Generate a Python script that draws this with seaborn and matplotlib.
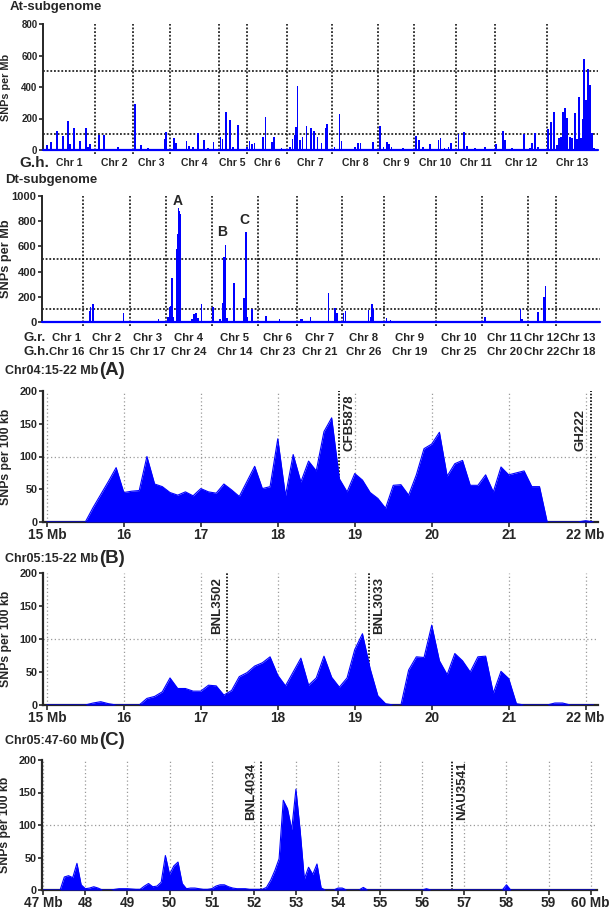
import numpy as np
import matplotlib
matplotlib.use("Agg")
import matplotlib.pyplot as plt
import matplotlib.transforms as mtransforms
import seaborn as sns

sns.set_style("ticks")
plt.rcParams['font.family'] = ['Liberation Sans', 'DejaVu Sans']
plt.rcParams['font.weight'] = 'bold'
plt.rcParams['axes.labelweight'] = 'bold'

BLUE = '#0000FF'
W, H = 609, 909

# ---- At-subgenome (SNPs per Mb, cumulative genome position) ----
at_chr_len = [157, 112, 113, 146, 83, 122, 136, 138, 108, 125, 116, 156, 154]
at_chr_names = ['Chr 1', 'Chr 2', 'Chr 3', 'Chr 4', 'Chr 5', 'Chr 6', 'Chr 7',
                'Chr 8', 'Chr 9', 'Chr 10', 'Chr 11', 'Chr 12', 'Chr 13']
at_pos = [13, 24, 43, 59, 74, 81, 92, 112, 129, 134, 141,
          167, 184, 225,
          276, 293, 316, 366, 370,
          392, 398, 431, 439, 451, 465, 483, 496, 512,
          533, 539, 549, 561, 571, 585,
          613, 620, 628, 635, 661, 668, 687, 693, 716,
          741, 749, 756, 759, 764, 771, 779, 791, 804, 813, 824, 836, 848, 852,
          875, 890, 896, 936, 946, 953, 990,
          1012, 1022, 1032, 1039, 1046, 1081,
          1119, 1128, 1140, 1162, 1187, 1193, 1205, 1217, 1224,
          1247, 1263, 1273, 1296, 1328,
          1361, 1382, 1386, 1408, 1445, 1461, 1468, 1478, 1486,
          1515, 1526, 1533, 1544, 1550, 1556, 1561, 1568, 1574, 1583, 1589,
          1597, 1602, 1608, 1614, 1620, 1624, 1629, 1635, 1642, 1648, 1654]
at_val = [32, 53, 123, 90, 184, 38, 140, 57, 140, 21, 38,
          95, 95, 21,
          290, 32, 10, 68, 112,
          78, 42, 57, 27, 21, 110, 66, 15, 51,
          85, 68, 239, 190, 21, 159,
          21, 57, 38, 42, 85, 212, 53, 80, 10,
          21, 68, 95, 148, 406, 63, 85, 152, 137, 120, 80, 47, 137, 163,
          17, 231, 57, 21, 42, 42, 49,
          152, 21, 49, 38, 17, 10,
          91, 63, 21, 38, 63, 78, 10, 21, 42,
          102, 114, 27, 10, 17,
          38, 123, 63, 10, 102, 10, 42, 108, 21,
          135, 180, 243, 32, 74, 80, 239, 269, 205, 85, 78,
          233, 70, 339, 74, 197, 580, 317, 514, 413, 106, 10]

# ---- Dt-subgenome ----
dt_chr_len = [55, 62, 47, 61, 62, 51, 60, 56, 68, 61, 61, 38, 58]
dt_gr_names = ['Chr 1', 'Chr 2', 'Chr 3', 'Chr 4', 'Chr 5', 'Chr 6', 'Chr 7',
               'Chr 8', 'Chr 9', 'Chr 10', 'Chr 11', 'Chr 12', 'Chr 13']
dt_gh_names = ['Chr 16', 'Chr 15', 'Chr 17', 'Chr 24', 'Chr 14', 'Chr 23', 'Chr 21',
               'Chr 26', 'Chr 19', 'Chr 25', 'Chr 20', 'Chr 22', 'Chr 18']
dt_pos = [62.8, 64.6, 67.3, 108.0, 154.4,
          166.8, 169.0, 170.8, 172.6, 174.3, 178.8, 180.0, 181.0, 182.0, 182.7,
          198.7, 201.8, 204.4, 207.1, 211.5,
          226.5, 236.3, 239.8, 241.6, 243.4, 245.1, 254.9, 268.1, 270.8, 272.6, 278.3,
          297.3, 315.0, 332.7,
          342.5, 344.7, 355.8, 380.1, 388.9, 391.2,
          400.0, 402.7, 433.2, 435.4, 437.6, 439.8,
          456.6, 461.9, 509.7,
          587.2, 609.3, 634.5, 636.7,
          658.0, 665.5, 667.7,
          733.2]
dt_val = [90, 116, 140, 69, 21,
          42, 121, 127, 346, 42, 583, 700, 905, 880, 860,
          21, 63, 74, 29, 143,
          121, 21, 148, 512, 610, 29, 311, 193, 715, 42, 100,
          50, 24, 10,
          21, 24, 42, 232, 113, 69,
          69, 87, 95, 42, 143, 100,
          34, 16, 10,
          37, 10, 100, 21,
          82, 200, 285,
          10]
dt_peak_names = ['A', 'B', 'C']
dt_peak_pos = [179.7, 239.4, 268.0]
dt_peak_val = [958, 712, 808]

# ---- Region A: Chr04 15-22 Mb (SNPs per 100 kb) ----
a_x = [round(15.0 + 0.1 * i, 1) for i in range(72)]
a_y = [0, 0, 0, 0, 0, 0, 22, 42, 62, 83,
       45, 47, 48, 100, 58, 54, 45, 41, 46, 40,
       51, 46, 44, 58, 49, 39, 62, 85, 51, 54,
       127, 40, 103, 61, 93, 78, 138, 159, 66, 46,
       74, 64, 45, 36, 21, 56, 57, 41, 72, 112,
       119, 137, 70, 89, 94, 56, 56, 72, 46, 84,
       72, 75, 78, 54, 54, 0, 0, 0, 0, 0,
       2, 0]
a_markers = ['CFB5878', 'GH222']
a_marker_pos = [18.8, 22.07]

# ---- Region B: Chr05 15-22 Mb ----
b_x = [round(15.0 + 0.1 * i, 1) for i in range(72)]
b_y = [0, 0, 0, 0, 0, 0, 3, 5, 2, 0,
       0, 0, 0, 10, 13, 20, 41, 25, 25, 21,
       21, 30, 29, 15, 22, 43, 49, 59, 64, 73,
       45, 29, 50, 71, 30, 41, 74, 42, 27, 41,
       84, 108, 55, 14, 2, 0, 0, 53, 73, 72,
       121, 67, 46, 78, 67, 50, 73, 74, 18, 51,
       40, 2, 0, 0, 0, 0, 3, 3, 0, 0,
       0, 0]
b_markers = ['BNL3502', 'BNL3033']
b_marker_pos = [17.34, 19.19]

# ---- Region C: Chr05 47-60 Mb ----
c_x = [47.0, 47.4, 47.5, 47.6, 47.7, 47.8, 47.9, 48.0, 48.1, 48.2, 48.3, 48.4, 48.6,
       48.7, 48.8, 49.0, 49.2, 49.3, 49.4, 49.5, 49.6, 49.7, 49.8, 49.9, 50.0, 50.1,
       50.2, 50.3, 50.4, 50.5, 50.6, 50.7, 50.8, 50.9, 51.0, 51.1, 51.2, 51.3, 51.4,
       51.5, 51.6, 51.8, 51.9, 52.0, 52.2, 52.3, 52.4, 52.5, 52.6, 52.7, 52.8, 52.9,
       53.0, 53.1, 53.2, 53.3, 53.4, 53.5, 53.6, 53.7, 53.9, 54.0, 54.1, 54.2, 54.5,
       54.6, 54.7, 56.0, 56.1, 56.2, 57.9, 58.0, 58.1, 60.1]
c_y = [0, 0, 20, 22, 19, 41, 8, 2, 3, 5, 3, 0, 0,
       1, 2, 2, 1, 1, 6, 10, 5, 6, 12, 53, 24, 37,
       43, 10, 2, 3, 3, 2, 1, 1, 2, 6, 8, 8, 5,
       3, 2, 2, 1, 1, 1, 4, 15, 30, 48, 138, 125, 93,
       155, 92, 17, 35, 24, 40, 3, 0, 0, 3, 3, 0, 0,
       4, 0, 0, 2, 0, 0, 8, 0, 0]
c_markers = ['BNL4034', 'NAU3541']
c_marker_pos = [52.17, 56.71]


def px_axes(fig, left, top, right, bottom):
    return fig.add_axes([left / W, 1 - bottom / H, (right - left) / W, (bottom - top) / H])


def fy(py):
    return 1 - py / H


def genome_panel(ax, lengths, pos, val, ymax, bar_w, tick_size, ylab_size):
    ends = np.cumsum(lengths)
    ax.bar(pos, val, width=bar_w, color=BLUE, linewidth=0, zorder=3)
    ax.plot([0, ends[-1]], [0, 0], color=BLUE, lw=1.6, zorder=4, clip_on=False)
    for e in ends[:-1]:
        ax.axvline(e, ymin=-0.035, ymax=1, color='black', ls=(0, (1.2, 1.2)),
                   lw=1.1, zorder=2, clip_on=False)
    for h in (100, 500):
        ax.axhline(h, color='black', ls=(0, (1.2, 1.2)), lw=1.1, zorder=2)
    ax.set_xlim(0, ends[-1])
    ax.set_ylim(0, ymax)
    ax.set_xticks([])
    ax.set_yticks(range(0, ymax + 1, 200))
    ax.tick_params(axis='y', labelsize=tick_size, length=3, width=1.2, pad=1)
    ax.set_ylabel('SNPs per Mb', fontsize=ylab_size)
    sns.despine(ax=ax)
    ax.spines['left'].set_linewidth(1.4)
    ax.spines['bottom'].set_visible(False)
    return ends - np.array(lengths) / 2


def region_panel(ax, x, y, lo, hi, ticks, markers, marker_pos, sides):
    for t in ticks:
        ax.axvline(t, color='#9a9a9a', ls=(0, (1, 2)), lw=0.9, zorder=1)
    ax.axhline(100, color='#9a9a9a', ls=(0, (1, 2)), lw=0.9, zorder=1)
    for name, mx, side in zip(markers, marker_pos, sides):
        ax.axvline(mx, color='black', ls=(0, (1, 1)), lw=1.2, zorder=2)
        dx = 3 if side == 'right' else -3
        ax.annotate(name, (mx, 108), xytext=(dx, 0), textcoords='offset points',
                    rotation=90, ha='left' if side == 'right' else 'right',
                    va='bottom', fontsize=9.5, fontweight='bold')
    ax.fill_between(x, y, 0, color=BLUE, lw=0, zorder=3)
    sns.lineplot(x=x, y=y, ax=ax, color=BLUE, lw=0.8, zorder=3, estimator=None)
    ax.set_xlim(lo, hi)
    ax.set_ylim(0, 200)
    ax.set_xticks(ticks)
    labels = [str(t) for t in ticks]
    labels[0] += ' Mb'
    labels[-1] += ' Mb'
    ax.set_xticklabels(labels)
    ax.set_yticks([0, 50, 100, 150, 200])
    ax.tick_params(axis='x', labelsize=9.8, length=3.5, width=1.2, pad=1)
    ax.tick_params(axis='y', labelsize=7.8, length=3, width=1.2, pad=1)
    ax.set_ylabel('SNPs per 100 kb', fontsize=8.8)
    ax.yaxis.set_label_coords(-0.055, 0.5)
    ax.set_xlabel('')
    sns.despine(ax=ax)
    ax.spines['left'].set_linewidth(1.6)
    ax.spines['bottom'].set_linewidth(1.6)


fig = plt.figure(figsize=(W / 100, H / 100), dpi=100)

# At-subgenome
ax_at = px_axes(fig, 43, 24, 598, 150)
mids = genome_panel(ax_at, at_chr_len, at_pos, at_val, 800, 5.5, 7, 7.8)
ax_at.yaxis.set_label_coords(-0.058, 0.5)
fig.text(10 / W, fy(10), 'At-subgenome', fontsize=9.5, fontweight='bold', va='baseline')
tr = mtransforms.blended_transform_factory(ax_at.transData, fig.transFigure)
for m, name in zip(mids, at_chr_names):
    ax_at.text(m, fy(163), name, transform=tr, ha='center', va='center', fontsize=7.5)
fig.text(19 / W, fy(163), 'G.h.', fontsize=11, va='center')

# Dt-subgenome
ax_dt = px_axes(fig, 42, 196, 600, 322)
mids = genome_panel(ax_dt, dt_chr_len, dt_pos, dt_val, 1000, 2.0, 8, 9.2)
ax_dt.yaxis.set_label_coords(-0.054, 0.5)
fig.text(5 / W, fy(183), 'Dt-subgenome', fontsize=9.5, fontweight='bold', va='baseline')
for name, px_, pv in zip(dt_peak_names, dt_peak_pos, dt_peak_val):
    ax_dt.text(px_, pv, name, ha='center', va='center', fontsize=10)
tr = mtransforms.blended_transform_factory(ax_dt.transData, fig.transFigure)
for i, (m, n1, n2) in enumerate(zip(mids, dt_gr_names, dt_gh_names)):
    shift = 4 if i == 0 else 0
    tr_i = tr + mtransforms.ScaledTranslation(shift / 100, 0, fig.dpi_scale_trans)
    ax_dt.text(m, fy(338), n1, transform=tr_i, ha='center', va='center', fontsize=8.2)
    ax_dt.text(m, fy(352), n2, transform=tr_i, ha='center', va='center', fontsize=8.2)
fig.text(24 / W, fy(338), 'G.r.', fontsize=9.5, va='center')
fig.text(23 / W, fy(352), 'G.h.', fontsize=9.5, va='center')

# Region panels
ax_a = px_axes(fig, 43, 391, 598, 522)
region_panel(ax_a, a_x, a_y, 14.95, 22.16, list(range(15, 23)),
             a_markers, a_marker_pos, ['right', 'left'])
fig.text(5 / W, fy(374), 'Chr04:15-22 Mb', fontsize=9, va='baseline')
fig.text(99 / W, fy(375), '(A)', fontsize=13.5, va='baseline')

ax_b = px_axes(fig, 43, 573, 598, 705)
region_panel(ax_b, b_x, b_y, 14.95, 22.16, list(range(15, 23)),
             b_markers, b_marker_pos, ['left', 'right'])
fig.text(5 / W, fy(562), 'Chr05:15-22 Mb', fontsize=9, va='baseline')
fig.text(99 / W, fy(563), '(B)', fontsize=13.5, va='baseline')

ax_c = px_axes(fig, 42, 760, 597, 890)
region_panel(ax_c, c_x, c_y, 46.97, 60.15, list(range(47, 61)),
             c_markers, c_marker_pos, ['left', 'right'])
fig.text(5 / W, fy(744), 'Chr05:47-60 Mb', fontsize=9, va='baseline')
fig.text(99 / W, fy(745), '(C)', fontsize=13.5, va='baseline')

fig.savefig('out.png', dpi=100)
